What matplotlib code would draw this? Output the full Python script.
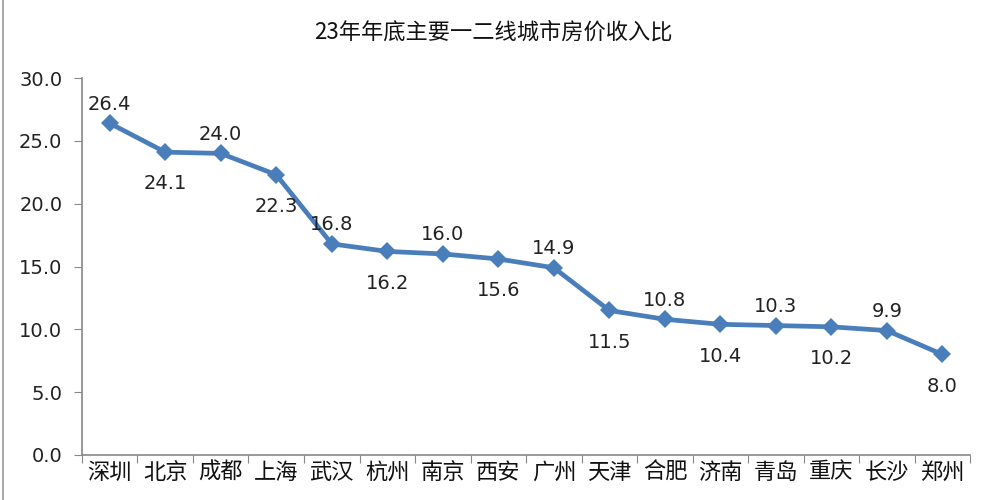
import numpy as np
import matplotlib.pyplot as plt

plt.rcParams['font.family'] = ['Noto Sans CJK SC', 'DejaVu Sans']

# 数据
cities = ['深圳', '北京', '成都', '上海', '武汉', '杭州', '南京', '西安',
          '广州', '天津', '合肥', '济南', '青岛', '重庆', '长沙', '郑州']
ratios = [26.4, 24.1, 24.0, 22.3, 16.8, 16.2, 16.0, 15.6,
          14.9, 11.5, 10.8, 10.4, 10.3, 10.2, 9.9, 8.0]
y_ticks = [0, 5, 10, 15, 20, 25, 30]

fig = plt.figure(figsize=(9.87, 5.0), dpi=100)
ax = fig.add_axes([0.083, 0.09, 0.9, 0.754])

x = np.arange(len(cities))
ax.plot(x, ratios, color='#4a7ebb', linewidth=3.4, marker='D',
        markersize=9, markeredgewidth=0, zorder=3)

# 数据标签，上下交替
for i, v in enumerate(ratios):
    if i % 2 == 0:
        ax.annotate(f'{v:.1f}', (i, v), xytext=(0, 7), textcoords='offset points',
                    ha='center', va='bottom', fontsize=14, family='DejaVu Sans',
                    color='#222222')
    else:
        ax.annotate(f'{v:.1f}', (i, v), xytext=(0, -16), textcoords='offset points',
                    ha='center', va='top', fontsize=14, family='DejaVu Sans',
                    color='#222222')

ax.set_xlim(-0.5, len(cities) - 0.5)
ax.set_ylim(0, 30)
ax.set_yticks(y_ticks)
ax.set_yticklabels([f'{t:.1f}' for t in y_ticks], family='DejaVu Sans',
                   fontsize=14, color='#222222')

# 刻度线放在类别之间
ax.set_xticks(np.arange(-0.5, len(cities) + 0.5, 1))
ax.set_xticklabels([])
ax.set_xticks(x, minor=True)
ax.set_xticklabels(cities, minor=True, fontsize=16, color='#111111')
ax.tick_params(axis='x', which='minor', length=0, pad=4)
ax.tick_params(axis='x', which='major', length=6, color='#888888', direction='out')
ax.tick_params(axis='y', length=6, color='#888888', direction='out', pad=8)

for side in ['top', 'right']:
    ax.spines[side].set_visible(False)
for side in ['left', 'bottom']:
    ax.spines[side].set_color('#888888')
    ax.spines[side].set_linewidth(1.2)

fig.text(0.5, 0.935, '23年年底主要一二线城市房价收入比', ha='center', va='center',
         fontsize=16, color='#111111')

# 左侧边框线
fig.add_artist(plt.Line2D([0.003, 0.003], [0, 1], color='#999999', linewidth=1.2))

fig.savefig('out.png', dpi=100)
